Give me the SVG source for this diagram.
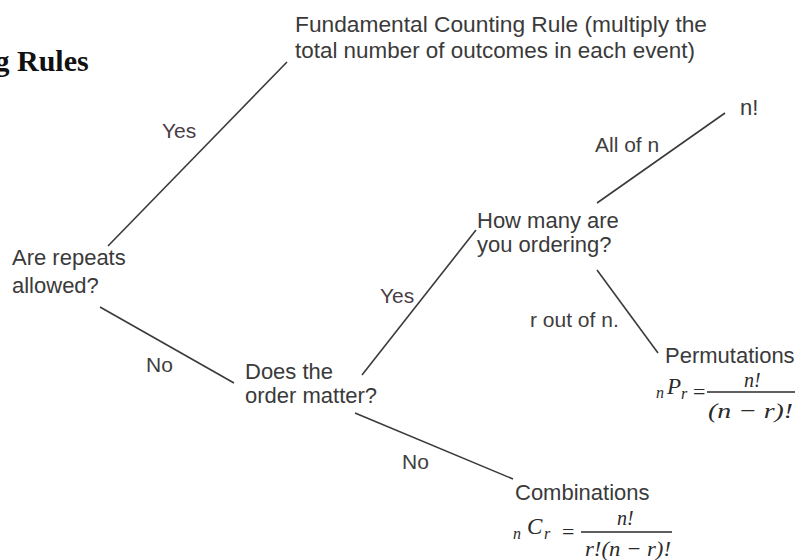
<svg xmlns="http://www.w3.org/2000/svg" width="799" height="560" viewBox="0 0 799 560">
<style>
.t{font-family:"Liberation Sans",Arial,sans-serif;font-size:22px;fill:#3a3a3a}
.l{font-family:"Liberation Sans",Arial,sans-serif;font-size:21px;fill:#3e3e3e}
.y{fill:#4a3d48}
.m{font-family:"Liberation Serif","Times New Roman",serif;font-style:italic;fill:#2a2a2a}
.q{font-family:"Liberation Serif","Times New Roman",serif;font-size:22px;fill:#2a2a2a}
.e{stroke:#3a3a3a;stroke-width:1.6;fill:none}
.bar{stroke:#2a2a2a;stroke-width:1.4}
</style>
<rect width="799" height="560" fill="#ffffff"/>
<g id="title">
<text x="-5.5" y="71" font-family="Liberation Serif,'Times New Roman',serif" font-weight="bold" font-size="30" fill="#111">g Rules</text>
</g>
<g id="connectors">
<line class="e" x1="108" y1="246" x2="287" y2="62"/>
<line class="e" x1="100" y1="307" x2="234" y2="383"/>
<line class="e" x1="362" y1="375" x2="476" y2="230"/>
<line class="e" x1="355" y1="413" x2="513" y2="479"/>
<line class="e" x1="597" y1="203" x2="725" y2="113"/>
<line class="e" x1="597" y1="270" x2="658" y2="353"/>
<text class="l y" x="162" y="138">Yes</text>
<text class="l" x="146" y="372">No</text>
<text class="l y" x="380" y="303">Yes</text>
<text class="l" x="402" y="469">No</text>
<text class="l" x="595" y="152">All of n</text>
<text class="l" x="530" y="327">r out of n.</text>
</g>
<g id="fundamental">
<text class="t" x="295" y="32" textLength="412" lengthAdjust="spacingAndGlyphs">Fundamental Counting Rule (multiply the</text>
<text class="t" x="295" y="58" textLength="400" lengthAdjust="spacingAndGlyphs">total number of outcomes in each event)</text>
</g>
<g id="repeats">
<text class="t" x="12" y="265">Are repeats</text>
<text class="t" x="12" y="293">allowed?</text>
</g>
<g id="order">
<text class="t" x="245" y="379">Does the</text>
<text class="t" x="245" y="403">order matter?</text>
</g>
<g id="howmany">
<text class="t" x="477" y="228">How many are</text>
<text class="t" x="477" y="252">you ordering?</text>
</g>
<g id="nfact">
<text class="t" x="740" y="115">n!</text>
</g>
<g id="permutations">
<text class="t" x="665" y="363">Permutations</text>
<text class="m" x="656" y="398" font-size="16">n</text>
<text class="m" x="667" y="394" font-size="23">P</text>
<text class="m" x="681" y="399" font-size="16">r</text>
<text class="q" x="693" y="399">=</text>
<line class="bar" x1="707" y1="392" x2="795" y2="392"/>
<text class="m" x="744" y="387" font-size="20">n!</text>
<text class="m" x="708" y="418" font-size="22" textLength="85" lengthAdjust="spacingAndGlyphs">(n − r)!</text>
</g>
<g id="combinations">
<text class="t" x="515" y="500">Combinations</text>
<text class="m" x="513" y="539" font-size="16">n</text>
<text class="m" x="527" y="534" font-size="23">C</text>
<text class="m" x="544" y="539" font-size="16">r</text>
<text class="q" x="562" y="539">=</text>
<line class="bar" x1="581" y1="532" x2="672" y2="532"/>
<text class="m" x="617" y="525" font-size="20">n!</text>
<text class="m" x="585" y="556" font-size="22" textLength="86" lengthAdjust="spacingAndGlyphs">r!(n − r)!</text>
</g>
</svg>
